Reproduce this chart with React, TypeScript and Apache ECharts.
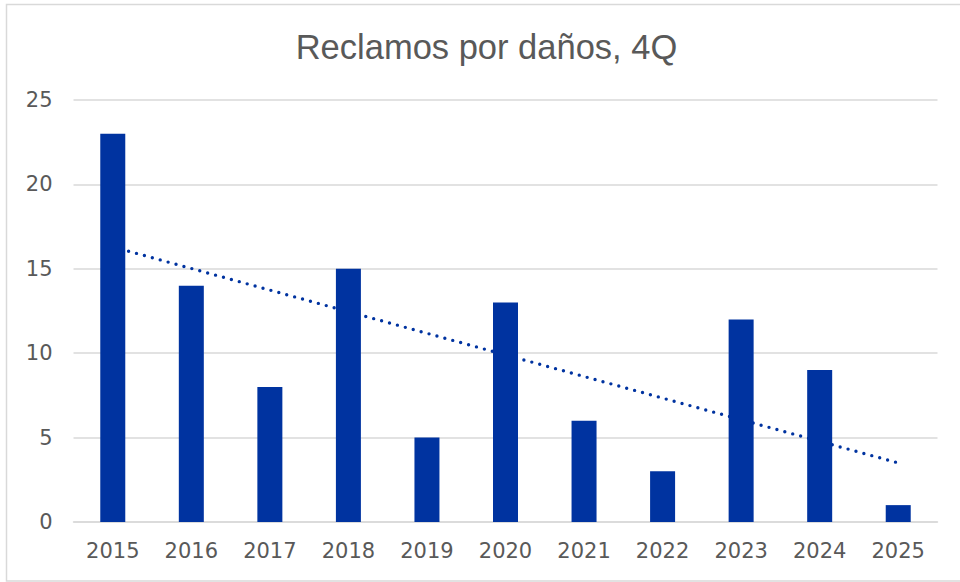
import React, { useEffect, useRef } from "react";
import * as echarts from "echarts";

const titleText = "Reclamos por daños, 4Q";
const years = ["2015", "2016", "2017", "2018", "2019", "2020", "2021", "2022", "2023", "2024", "2025"];
const claims = [23, 14, 8, 15, 5, 13, 6, 3, 12, 9, 1];
const trendStart = 16.3;
const trendEnd = 3.5;
const yTicks = { min: 0, max: 25, interval: 5 };

export default function App() {
  const ref = useRef<HTMLDivElement>(null);
  useEffect(() => {
    if (!ref.current) return;
    const chart = echarts.init(ref.current, undefined, { renderer: "svg" });
    const textColor = "#595959";
    const gridColor = "#d9d9d9";
    const barColor = "#0033a0";
    chart.setOption({
      animation: false,
      backgroundColor: "#ffffff",
      graphic: [
        {
          type: "rect",
          shape: { x: 6.5, y: 4.5, width: 970, height: 576.5 },
          style: { fill: "none", stroke: gridColor, lineWidth: 1.5 },
          silent: true,
        },
        {
          type: "text",
          x: 486.5,
          y: 47,
          style: {
            text: titleText,
            fill: textColor,
            font: '34.5px "Liberation Sans", Arial, sans-serif',
            textAlign: "center",
            textVerticalAlign: "middle",
          },
        },
      ],
      grid: { left: 73.5, right: 22.5, top: 100, bottom: 60, containLabel: false },
      xAxis: {
        type: "category",
        data: years,
        axisLine: { show: true, lineStyle: { color: gridColor, width: 1.5 } },
        axisTick: { show: false },
        axisLabel: {
          color: textColor,
          fontFamily: '"DejaVu Sans", sans-serif',
          fontSize: 21,
          margin: 18,
          interval: 0,
        },
      },
      yAxis: {
        type: "value",
        min: yTicks.min,
        max: yTicks.max,
        interval: yTicks.interval,
        axisLine: { show: false },
        axisTick: { show: false },
        splitLine: { lineStyle: { color: gridColor, width: 1.5 } },
        axisLabel: {
          color: textColor,
          fontFamily: '"DejaVu Sans", sans-serif',
          fontSize: 21,
          margin: 21,
        },
      },
      series: [
        {
          type: "line",
          z: 1,
          data: [
            [0, trendStart],
            [years.length - 1, trendEnd],
          ],
          symbol: "none",
          lineStyle: { color: barColor, width: 3.4, type: [0, 8.2], cap: "round" },
          silent: true,
        },
        {
          type: "bar",
          z: 2,
          data: claims,
          barWidth: 25,
          itemStyle: { color: barColor },
        },
      ],
    });
    return () => chart.dispose();
  }, []);
  return (
    <div
      ref={ref}
      style={{ position: "fixed", left: 0, top: 0, width: 960, height: 582 }}
    />
  );
}
